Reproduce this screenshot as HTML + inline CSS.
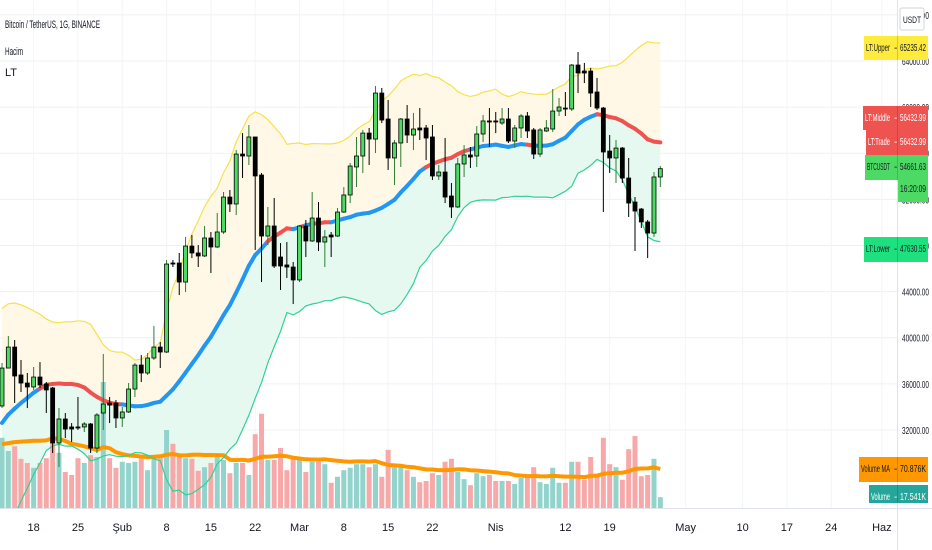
<!DOCTYPE html>
<html><head><meta charset="utf-8"><style>
html,body{margin:0;padding:0;background:#fff;}
svg{display:block;font-family:"Liberation Sans Narrow","Liberation Sans",sans-serif;}
</style></head><body>
<svg id="chart" width="932" height="550" viewBox="0 0 932 550" xmlns="http://www.w3.org/2000/svg">
<defs><clipPath id="plotclip"><rect x="0" y="0" width="897" height="508"/></clipPath></defs>
<rect x="0" y="0" width="932" height="550" fill="#ffffff"/>
<g id="grid"></g>
<g id="plot" clip-path="url(#plotclip)"></g>
<g id="axes"></g>
<g id="labels"></g>
<text x="5" y="28" font-size="11" fill="#131722" textLength="95" lengthAdjust="spacingAndGlyphs">Bitcoin / TetherUS, 1G, BINANCE</text>
<text x="5" y="55" font-size="11" fill="#131722" textLength="18" lengthAdjust="spacingAndGlyphs">Hacim</text>
<text x="5" y="76" font-size="11" fill="#131722">LT</text>
</svg>
<script>
// ---- data (prices in thousands USDT, volumes in K) ----
const opens=[34.08,37.37,39.19,36.77,36.07,35.73,36.59,35.99,35.64,30.87,32.95,32.26,32.26,32.26,32.52,30.43,33.47,34.34,34.34,33.04,33.56,35.55,37.63,36.94,38.24,39.19,38.76,46.48,46.48,44.83,47.95,47.35,47.09,48.65,47.87,49.17,52.20,51.60,55.93,55.76,57.41,54.11,48.82,49.69,47.00,46.31,46.13,45.01,49.69,48.39,50.38,48.30,48.91,48.82,50.90,52.38,54.81,55.76,57.75,57.23,61.22,58.97,55.59,56.89,58.97,57.58,58.19,58.19,57.41,54.03,54.37,52.29,51.34,55.07,55.85,55.76,57.67,58.80,58.80,58.62,58.97,57.06,58.19,59.23,58.02,55.93,57.93,58.10,59.66,59.92,59.84,63.65,63.13,63.13,61.31,59.92,56.19,55.59,56.45,53.85,51.77,51.16,50.04,49.08,53.94];
const highs=[37.81,40.15,39.80,38.07,36.94,37.46,37.89,36.16,35.73,33.90,33.47,32.60,34.86,32.69,32.60,33.47,38.59,34.86,34.60,33.99,36.07,37.81,38.50,38.67,41.02,39.63,46.74,46.74,47.35,48.74,48.91,48.04,49.69,49.17,50.82,52.64,52.81,56.28,57.75,58.45,57.41,54.29,51.34,52.12,48.21,48.30,46.57,49.78,50.21,52.64,51.77,49.34,49.17,51.25,53.07,55.15,57.41,58.02,58.19,61.83,61.66,60.62,57.15,59.06,60.18,59.49,59.92,58.45,58.45,54.98,57.32,53.42,55.59,56.71,56.54,58.36,59.32,59.92,59.58,59.92,59.92,58.45,59.40,59.58,58.19,58.19,58.88,61.57,60.79,61.31,63.74,64.78,63.83,63.39,62.53,60.01,57.58,57.15,56.54,55.59,52.20,51.25,50.21,54.37,54.89];
const lows=[33.90,37.37,34.34,35.29,33.90,35.47,35.64,33.47,30.00,28.79,31.30,30.96,32.00,31.82,30.00,30.00,32.00,32.60,32.17,32.26,33.47,34.86,36.16,36.77,38.07,37.37,38.67,46.13,43.70,43.96,46.91,46.13,47.00,45.61,47.78,49.00,50.90,50.64,53.85,54.98,47.61,44.83,48.04,46.05,44.14,45.18,42.92,44.83,47.00,48.30,47.52,46.13,47.00,48.74,50.82,51.68,53.07,54.29,54.98,56.02,58.62,54.55,53.24,54.81,56.89,56.28,57.15,55.41,53.68,53.68,51.68,50.38,51.25,53.94,54.72,54.81,56.97,56.54,57.75,58.45,56.89,56.45,57.32,57.32,55.50,55.67,57.84,57.84,59.23,59.23,59.66,61.22,62.09,60.01,59.75,50.90,54.29,53.42,53.42,50.47,47.52,49.52,46.91,48.74,53.07];
const closes=[37.37,39.19,36.68,36.07,35.73,36.59,35.90,35.47,30.87,32.95,32.08,32.08,32.17,32.52,30.43,33.30,34.25,34.16,33.04,33.56,35.55,37.63,36.94,38.24,39.19,38.76,46.39,46.39,44.83,47.95,47.35,47.09,48.65,47.87,49.17,52.20,51.60,55.93,55.76,57.41,54.03,48.82,49.69,46.22,46.22,46.13,45.01,49.69,48.39,50.38,48.30,48.74,48.74,50.90,52.38,54.89,55.76,57.75,57.23,61.22,58.88,55.59,56.89,58.97,57.58,58.10,58.02,57.32,54.03,54.37,52.20,51.34,55.07,55.85,55.67,57.67,58.80,58.71,58.71,58.97,57.06,58.19,59.23,57.93,55.93,58.02,58.19,59.66,60.01,59.84,63.65,62.96,62.96,61.22,59.92,56.11,55.59,56.45,53.85,51.68,50.99,50.04,49.08,53.94,54.66];
const priorCloses=[24.66,26.44,26.25,27.04,27.37,28.88,28.92,29.33,32.18,33.00,31.99,33.95,36.77,39.37,40.67,40.24,38.24,35.54,34.01];
const volumes=[117,95,103,82,75,67,75,83,125,92,60,55,83,75,88,85,210,83,67,77,75,77,83,63,83,83,130,107,85,83,82,62,68,75,85,80,58,75,75,55,123,157,80,80,100,63,83,80,60,77,77,73,42,52,63,67,73,73,68,73,52,97,68,68,63,52,43,45,58,55,77,82,60,48,38,58,53,55,45,45,45,40,50,50,68,43,40,67,42,42,77,77,47,85,52,117,73,68,47,98,120,53,55,82,18];
const priorVolumes=[60,70,65,60,55,70,75,55,110,130,150,120,120,150,150,110,120,200,140];
const priceTicks=[32,36,40,44,48,52,56,60,64,68];
const tickDays=[5,12,19,26,33,40,47,54,61,68,78,89,96,108,117,124,131,139];
const tickLabels=["18","25","Şub","8","15","22","Mar","8","15","22","Nis","12","19","May","10","17","24","Haz"];
const axisPriceLabels=["32000.00","36000.00","40000.00","44000.00","48000.00","52000.00","56000.00","60000.00","64000.00","68000.00"];

// ---- axes ----
const NS="http://www.w3.org/2000/svg";
function xOf(i){return 2+i*6.33;}
function yOf(p){return 61+(64-p)*11.53;}
function yVol(v){return 508-v*0.6;}
function mk(tag,attrs,parent){const e=document.createElementNS(NS,tag);for(const k in attrs)e.setAttribute(k,attrs[k]);parent.appendChild(e);return e;}
const grid=document.getElementById('grid'),plot=document.getElementById('plot'),axes=document.getElementById('axes'),labels=document.getElementById('labels');

priceTicks.forEach((t,k)=>{
  const l=mk('line',{x1:0,x2:897,y1:yOf(t),y2:yOf(t),stroke:'#eef0f4','stroke-width':1},grid);
  
  
  const tx=mk('text',{x:902,y:yOf(t)+4,'font-size':10,fill:'#131722',textLength:27,lengthAdjust:'spacingAndGlyphs'},axes);
  tx.textContent=axisPriceLabels[k];
  
  
});
tickDays.forEach((d,k)=>{
  const l=mk('line',{x1:xOf(d),x2:xOf(d),y1:0,y2:508,stroke:'#f3f4f7','stroke-width':1},grid);
  
  
  const tx=mk('text',{x:xOf(d),y:531,'font-size':11,fill:'#131722','text-anchor':'middle'},axes);
  tx.textContent=tickLabels[k];
  
  
});

const allC=priorCloses.concat(closes),allV=priorVolumes.concat(volumes);
const mid=[],up=[],lo=[],vma=[];
for(let i=0;i<closes.length;i++){
  const w=allC.slice(i,i+20);const m=w.reduce((a,b)=>a+b,0)/w.length;
  const sd=Math.sqrt(w.reduce((a,b)=>a+(b-m)*(b-m),0)/w.length);
  mid.push(m);up.push(m+2*sd);lo.push(m-2*sd);
  const vw=allV.slice(i,i+20);vma.push(vw.reduce((a,b)=>a+b,0)/vw.length);
}
function pts(arr,f){return arr.map((v,i)=>xOf(i).toFixed(1)+','+f(v).toFixed(1));}
const fillUp=mk('polygon',{points:pts(up,yOf).concat(pts(mid,yOf).reverse()).join(' '),fill:'#fff8e6'},plot);


const fillLo=mk('polygon',{points:pts(mid,yOf).concat(pts(lo,yOf).reverse()).join(' '),fill:'#e6f9f0'},plot);



volumes.forEach((v,i)=>{
  const upc=closes[i]>=opens[i];
  const r=mk('rect',{x:xOf(i)-2.5,y:yVol(v),width:5,height:508-yVol(v),fill:upc?'#92d3cc':'#f6a9a8'},plot);
  
  
});
const vl=mk('polyline',{points:pts(vma,yVol).join(' '),fill:'none',stroke:'#ff9800','stroke-width':4,'stroke-linejoin':'round'},plot);



const ul=mk('polyline',{points:pts(up,yOf).join(' '),fill:'none',stroke:'#f7e04a','stroke-width':1.2},plot);


const ll=mk('polyline',{points:pts(lo,yOf).join(' '),fill:'none',stroke:'#2fd195','stroke-width':1.2},plot);


for(let i=1;i<mid.length;i++){
  const red=closes[i]<mid[i];
  const s=mk('line',{x1:xOf(i-1),y1:yOf(mid[i-1]),x2:xOf(i),y2:yOf(mid[i]),stroke:red?'#ef5350':'#2196f3','stroke-width':4,'stroke-linecap':'round'},plot);
  
  
}

closes.forEach((c,i)=>{
  const o=opens[i],g=c>=o,x=xOf(i);
  const w=mk('line',{x1:x,x2:x,y1:yOf(highs[i]),y2:yOf(lows[i]),stroke:g?'#2e7d32':'#000','stroke-width':1},plot);
  
  
  const top=yOf(Math.max(o,c)),h=Math.max(1,yOf(Math.min(o,c))-top);
  const b=mk('rect',{x:x-2,y:top,width:4,height:h,fill:g?'#4cd964':'#000',stroke:'#000','stroke-width':0.8},plot);
  
  
});

const ax1=mk('line',{x1:897.5,x2:897.5,y1:0,y2:550,stroke:'#e0e3eb','stroke-width':1},axes);


const ax2=mk('line',{x1:0,x2:932,y1:508.5,y2:508.5,stroke:'#e0e3eb','stroke-width':1},axes);



function lab(name,x,y,h,bg,fg,t1,t2,t3){
  const g=mk('g',{},labels);
  
  
  mk('rect',{x:x,y:y,width:928-x,height:h,fill:bg},g);
  const a=mk('text',{x:x+2,y:y+15,'font-size':10,fill:fg,textLength:897-x-9,lengthAdjust:'spacingAndGlyphs'},g);a.textContent=t1;
  const d=mk('text',{x:894,y:y+15,'font-size':10,fill:fg},g);d.textContent='-';
  const b=mk('text',{x:900,y:y+15,'font-size':10,fill:fg,textLength:26,lengthAdjust:'spacingAndGlyphs'},g);b.textContent=t2;
  if(t3){const c=mk('text',{x:900,y:y+37,'font-size':10,fill:fg,textLength:26,lengthAdjust:'spacingAndGlyphs'},g);c.textContent=t3;}
  mk('line',{x1:897.5,x2:897.5,y1:y,y2:y+h,stroke:'rgba(0,0,0,0.15)'},g);
}
lab('upper-label',864,36,24,'#ffeb3b','#131722','LT:Upper','65235.42');
lab('middle-label',863,106,24,'#ef5350','#ffffff','LT:Middle','56432.99');
lab('trade-label',866,130,25,'#ef5350','#ffffff','LT:Trade','56432.99');
const tb=mk('rect',{x:898,y:178,width:30,height:24,fill:'#4cd964'},labels);


lab('btcusdt-label',865,155,25,'#4cd964','#131722','BTCUSDT','54661.63','16:20:09');
lab('lower-label',864,237,25,'#1fe07f','#131722','LT:Lower','47630.55');
lab('volume-ma-label',859,457,25,'#ff9800','#131722','Volume MA','70.876K');
lab('volume-label',869,485,18,'#26a69a','#ffffff','Volume','17.541K');
const ub=mk('rect',{x:900,y:8,width:24,height:22,fill:'#fff',stroke:'#d1d4dc',rx:2},labels);


const ut=mk('text',{x:912,y:23,'font-size':9,fill:'#131722','text-anchor':'middle',textLength:18,lengthAdjust:'spacingAndGlyphs'},labels);ut.textContent='USDT';


</script>
</body></html>
